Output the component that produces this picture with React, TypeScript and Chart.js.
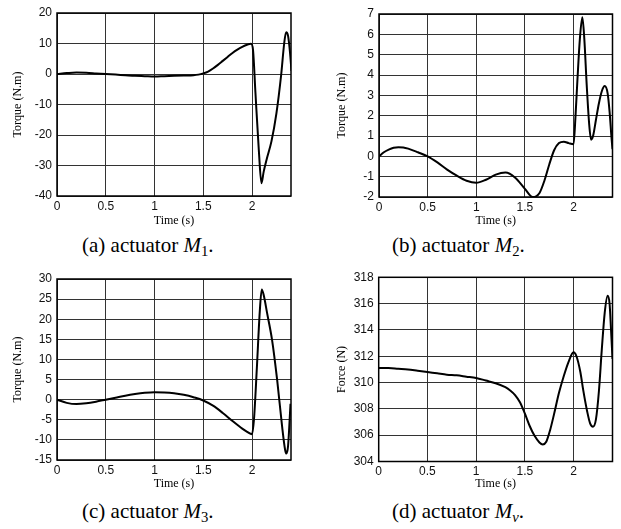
import React, { useEffect, useRef } from "react";
import { Chart, registerables } from "chart.js";

Chart.register(...registerables);

// ---- data ----
const tA = [0, 0.1, 0.2, 0.3, 0.4, 0.5, 0.6, 0.7, 0.8, 0.9, 1.0, 1.1, 1.2, 1.3, 1.4, 1.45, 1.5, 1.55, 1.6, 1.65, 1.7, 1.75, 1.8, 1.85, 1.9, 1.95, 1.99, 2.01, 2.035, 2.07, 2.097, 2.12, 2.15, 2.2, 2.25, 2.3, 2.33, 2.35, 2.37, 2.39, 2.405];
const vA = [0, 0.3, 0.5, 0.4, 0.2, 0, -0.2, -0.4, -0.6, -0.7, -0.8, -0.7, -0.6, -0.5, -0.4, -0.2, 0.2, 0.8, 1.8, 3.0, 4.3, 5.6, 6.9, 8.0, 8.9, 9.6, 9.9, 8, -6, -25, -35.8, -32, -28, -22, -13, 0, 10, 13.7, 12.5, 7, 1];

const tB = [0, 0.05, 0.1, 0.15, 0.2, 0.25, 0.3, 0.4, 0.5, 0.6, 0.7, 0.8, 0.9, 1.0, 1.1, 1.2, 1.3, 1.4, 1.5, 1.58, 1.65, 1.7, 1.75, 1.8, 1.85, 1.9, 1.95, 2.0, 2.02, 2.04, 2.065, 2.09, 2.11, 2.135, 2.16, 2.18, 2.2, 2.23, 2.26, 2.29, 2.32, 2.35, 2.37, 2.39, 2.4];
const vB = [0, 0.2, 0.33, 0.42, 0.45, 0.44, 0.38, 0.2, 0, -0.3, -0.65, -0.95, -1.2, -1.3, -1.15, -0.9, -0.8, -1.05, -1.6, -2.0, -1.8, -1.2, -0.4, 0.3, 0.65, 0.72, 0.65, 0.6, 2.0, 3.8, 5.8, 6.84, 5.8, 3.5, 1.6, 0.82, 1.0, 1.8, 2.6, 3.2, 3.46, 3.1, 2.2, 0.9, 0.35];

const tC = [0, 0.1, 0.2, 0.3, 0.4, 0.5, 0.6, 0.7, 0.8, 0.9, 1.0, 1.1, 1.2, 1.3, 1.4, 1.5, 1.6, 1.7, 1.8, 1.9, 1.95, 2.0, 2.02, 2.05, 2.08, 2.1, 2.12, 2.155, 2.206, 2.258, 2.309, 2.34, 2.353, 2.37, 2.395];
const vC = [0, -0.8, -1.1, -0.9, -0.5, 0, 0.5, 1.0, 1.4, 1.7, 1.85, 1.8, 1.6, 1.2, 0.6, -0.2, -1.5, -3.3, -5.3, -7.2, -8.0, -8.6, -5, 8, 22, 27.4, 26, 21.5, 14.8, 4.9, -6.7, -12.5, -13.4, -11.5, -1];

const tD = [0, 0.1, 0.2, 0.3, 0.4, 0.5, 0.6, 0.7, 0.8, 0.9, 1.0, 1.1, 1.2, 1.3, 1.35, 1.4, 1.45, 1.5, 1.55, 1.6, 1.65, 1.685, 1.72, 1.76, 1.8, 1.85, 1.9, 1.95, 2.0, 2.03, 2.07, 2.1, 2.14, 2.17, 2.2, 2.23, 2.26, 2.29, 2.32, 2.35, 2.37, 2.385, 2.4];
const vD = [311.1, 311.1, 311.05, 311.0, 310.9, 310.8, 310.7, 310.6, 310.55, 310.45, 310.35, 310.15, 309.95, 309.65, 309.4, 309.05, 308.5, 307.65, 306.7, 305.95, 305.45, 305.3, 305.5, 306.4, 307.6, 309.2, 310.5, 311.6, 312.3, 312.0, 310.8, 309.4, 307.8, 306.9, 306.65, 307.2, 309.3, 312.5, 315.3, 316.6, 316.0, 314.0, 311.8];

const xTickLabels = [0, 0.5, 1, 1.5, 2];
const xMax = 2.4;
const yTicksA = [-40, -30, -20, -10, 0, 10, 20];
const yTicksB = [-2, -1, 0, 1, 2, 3, 4, 5, 6, 7];
const yTicksC = [-15, -10, -5, 0, 5, 10, 15, 20, 25, 30];
const yTicksD = [304, 306, 308, 310, 312, 314, 316, 318];

const framePlugin = {
  id: "frame",
  afterDraw(chart: any) {
    const { ctx, chartArea } = chart;
    const { left, top, right, bottom } = chartArea;
    ctx.save();
    ctx.strokeStyle = "#000";
    ctx.lineWidth = 1.5;
    ctx.strokeRect(left, top, right - left, bottom - top);
    ctx.restore();
  },
};

type PanelProps = {
  left: number;
  top: number;
  width: number;
  height: number;
  areaLeft: number;
  areaTop: number;
  areaRight: number;
  areaBottom: number;
  yTitlePad: number;
  t: number[];
  v: number[];
  yTicks: number[];
  yTitle: string;
};

function Panel(p: PanelProps) {
  const ref = useRef<HTMLCanvasElement | null>(null);
  useEffect(() => {
    if (!ref.current) return;
    const step = p.yTicks[1] - p.yTicks[0];
    const tickFont = { family: "'Liberation Sans', Arial, sans-serif", size: 12 };
    const titleFont = { family: "'Liberation Serif', 'Times New Roman', serif", size: 12 };
    const chart = new Chart(ref.current, {
      type: "line",
      data: {
        datasets: [
          {
            data: p.t.map((x, i) => ({ x, y: p.v[i] })),
            borderColor: "#000",
            borderWidth: 2,
            pointRadius: 0,
            cubicInterpolationMode: "monotone",
            fill: false,
          },
        ],
      },
      options: {
        animation: false,
        responsive: false,
        events: [],
        layout: {
          padding: { left: 0, top: p.areaTop, right: p.width - p.areaRight, bottom: 0 },
        },
        plugins: { legend: { display: false }, tooltip: { enabled: false } },
        scales: {
          x: {
            type: "linear",
            min: 0,
            max: xMax,
            afterFit: (s: any) => {
              s.height = p.height - p.areaBottom;
            },
            border: { display: false },
            grid: { color: "#333", lineWidth: 1, drawTicks: false },
            ticks: {
              stepSize: 0.5,
              includeBounds: false,
              autoSkip: false,
              maxRotation: 0,
              padding: 3,
              color: "#111",
              font: tickFont,
              callback: (val: any) => (xTickLabels.includes(Number(val)) ? String(val) : ""),
            },
            title: {
              display: true,
              text: "Time (s)",
              color: "#000",
              font: titleFont,
              padding: { top: 0, bottom: 0 },
            },
          },
          y: {
            type: "linear",
            min: p.yTicks[0],
            max: p.yTicks[p.yTicks.length - 1],
            afterFit: (s: any) => {
              s.width = p.areaLeft;
            },
            border: { display: false },
            grid: { color: "#333", lineWidth: 1, drawTicks: false },
            ticks: {
              stepSize: step,
              autoSkip: false,
              padding: 5,
              color: "#111",
              font: tickFont,
              callback: (val: any) => String(val),
            },
            title: {
              display: true,
              text: p.yTitle,
              color: "#000",
              font: titleFont,
              padding: { top: p.yTitlePad, bottom: 0 },
            },
          },
        },
      },
      plugins: [framePlugin],
    } as any);
    return () => chart.destroy();
  }, []);
  return (
    <canvas
      ref={ref}
      width={p.width}
      height={p.height}
      style={{ position: "absolute", left: p.left, top: p.top, width: p.width, height: p.height }}
    />
  );
}

const capStyle: React.CSSProperties = {
  position: "absolute",
  fontFamily: "'Liberation Serif', 'Times New Roman', serif",
  fontSize: 21,
  lineHeight: "24px",
  whiteSpace: "nowrap",
  color: "#000",
};
const subStyle: React.CSSProperties = { fontSize: "0.7em", verticalAlign: "-0.3em", lineHeight: 0 };

export default function App() {
  return (
    <div style={{ position: "absolute", left: 0, top: 0, width: 621, height: 529, background: "#fff" }}>
      <Panel left={0} top={0} width={305} height={228} areaLeft={57} areaTop={13} areaRight={291} areaBottom={196} yTitlePad={10.8} t={tA} v={vA} yTicks={yTicksA} yTitle="Torque (N.m)" />
      <Panel left={310} top={0} width={311} height={228} areaLeft={69} areaTop={14} areaRight={302.5} areaBottom={197} yTitlePad={24.5} t={tB} v={vB} yTicks={yTicksB} yTitle="Torque (N.m)" />
      <Panel left={0} top={265} width={305} height={226} areaLeft={57} areaTop={14} areaRight={291} areaBottom={195} yTitlePad={10.8} t={tC} v={vC} yTicks={yTicksC} yTitle="Torque (N.m)" />
      <Panel left={310} top={265} width={311} height={226} areaLeft={68.7} areaTop={12.3} areaRight={302.5} areaBottom={196.5} yTitlePad={24.5} t={tD} v={vD} yTicks={yTicksD} yTitle="Force (N)" />
      <div style={{ ...capStyle, left: 82, top: 233 }}>
        (a) actuator <i>M</i><sub style={subStyle}>1</sub>.
      </div>
      <div style={{ ...capStyle, left: 392, top: 233 }}>
        (b) actuator <i>M</i><sub style={subStyle}>2</sub>.
      </div>
      <div style={{ ...capStyle, left: 82, top: 499 }}>
        (c) actuator <i>M</i><sub style={subStyle}>3</sub>.
      </div>
      <div style={{ ...capStyle, left: 392, top: 499 }}>
        (d) actuator <i>M</i><sub style={subStyle}><i>v</i></sub>.
      </div>
    </div>
  );
}
